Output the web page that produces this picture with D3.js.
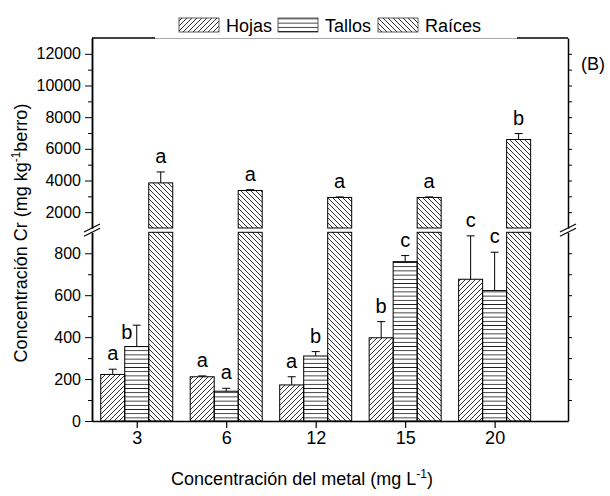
<!DOCTYPE html>
<html>
<head>
<meta charset="utf-8">
<script src="https://cdn.jsdelivr.net/npm/d3@7"></script>
<style>
  body { margin: 0; background: #fff; }
  text { font-family: "Liberation Sans", Arial, sans-serif; fill: #000; }
</style>
</head>
<body>
<div id="chart"></div>
<script>
const cats = ["3", "6", "12", "15", "20"];

const hojas = [222, 211, 172, 397, 676];
const hojasErr = [25, 4, 39, 77, 207];
const hojasSig = ["a", "a", "a", "b", "c"];

const tallos = [355, 142, 310, 760, 622];
const tallosErr = [102, 14, 21, 29, 183];
const tallosSig = ["b", "a", "b", "c", "c"];

const raices = [3850, 3370, 2930, 2930, 6590];
const raicesErr = [690, 50, 30, 30, 375];
const raicesSig = ["a", "a", "a", "a", "b"];

const lowTicks = [0, 200, 400, 600, 800];
const highTicks = [2000, 4000, 6000, 8000, 10000, 12000];

const W = 610, H = 496;
const plotL = 92, plotR = 568, plotT = 38, plotB = 421;
const breakLow = 232.3, breakHigh = 228;

const svg = d3.select("#chart").append("svg")
  .attr("width", W)
  .attr("height", H);

// patterns
const defs = svg.append("defs");
defs.append("pattern")
  .attr("id", "pHojas")
  .attr("patternUnits", "userSpaceOnUse")
  .attr("width", 5).attr("height", 5)
  .append("path")
    .attr("d", "M-1,1 l2,-2 M0,5 l5,-5 M4,6 l2,-2")
    .attr("stroke", "#000").attr("stroke-width", 0.8);
defs.append("pattern")
  .attr("id", "pRaices")
  .attr("patternUnits", "userSpaceOnUse")
  .attr("width", 5).attr("height", 5)
  .append("path")
    .attr("d", "M-1,4 l2,2 M0,0 l5,5 M4,-1 l2,2")
    .attr("stroke", "#000").attr("stroke-width", 0.8);
defs.append("pattern")
  .attr("id", "pTallos")
  .attr("patternUnits", "userSpaceOnUse")
  .attr("width", 8).attr("height", 4.2)
  .append("path")
    .attr("d", "M0,2.1 H8")
    .attr("stroke", "#000").attr("stroke-width", 0.8);

const xSc = d3.scaleLinear().domain([0.5, 5.82]).range([plotL, plotR]);
const yLow = d3.scaleLinear().domain([0, 900]).range([plotB, breakLow]);
const yHigh = d3.scaleLinear().domain([1000, 13000]).range([breakHigh, plotT]);

const barW = 24;
const series = [
  { name: "Hojas", vals: hojas, err: hojasErr, sig: hojasSig, fill: "url(#pHojas)", off: -1 },
  { name: "Tallos", vals: tallos, err: tallosErr, sig: tallosSig, fill: "url(#pTallos)", off: 0 },
  { name: "Raíces", vals: raices, err: raicesErr, sig: raicesSig, fill: "url(#pRaices)", off: 1 }
];

// y position of a value on the broken axis
const yPos = v => v <= 900 ? yLow(v) : yHigh(v);

series.forEach((s, si) => {
  const g = svg.append("g").attr("class", "bars");
  const data = s.vals.map((v, i) => ({ v, e: s.err[i], sig: s.sig[i], x: xSc(i + 1) + s.off * barW }));

  // lower part of each bar
  g.selectAll(".low")
    .data(data)
    .join("rect")
      .attr("class", "low")
      .attr("x", d => d.x - barW / 2)
      .attr("width", barW)
      .attr("y", d => yLow(Math.min(d.v, 900)))
      .attr("height", d => plotB - yLow(Math.min(d.v, 900)))
      .attr("fill", s.fill)
      .attr("stroke", "#000")
      .attr("stroke-width", 1);

  // upper part for values above the break
  g.selectAll(".high")
    .data(data.filter(d => d.v > 900))
    .join("rect")
      .attr("class", "high")
      .attr("x", d => d.x - barW / 2)
      .attr("width", barW)
      .attr("y", d => yHigh(d.v))
      .attr("height", d => breakHigh - yHigh(d.v))
      .attr("fill", s.fill)
      .attr("stroke", "#000")
      .attr("stroke-width", 1);

  // error bars (upper only)
  g.selectAll(".err")
    .data(data)
    .join("path")
      .attr("class", "err")
      .attr("d", d => {
        const y0 = yPos(d.v), y1 = yPos(d.v + d.e);
        return `M${d.x},${y0}V${y1}M${d.x - 4},${y1}H${d.x + 4}`;
      })
      .attr("stroke", "#000")
      .attr("stroke-width", 1)
      .attr("fill", "none");

  // significance letters
  g.selectAll(".sig")
    .data(data)
    .join("text")
      .attr("class", "sig")
      .attr("text-anchor", "middle")
      .attr("x", d => d.x)
      .attr("y", d => yPos(d.v + d.e) - 9)
      .style("font-size", "20px")
      .text(d => d.sig)
      // the "b" over Tallos at 3 sits beside its error bar
      .filter((d, i) => si === 1 && i === 0)
        .attr("x", d => d.x - 10)
        .attr("y", d => yPos(d.v + d.e) + 14);
});

// left axis, two segments
const fmt = d3.format("d");
const axLow = svg.append("g").attr("transform", `translate(${plotL},0)`);
axLow.call(d3.axisLeft(yLow).tickValues(d3.range(100, 900, 200)).tickSize(4).tickFormat("").tickSizeOuter(0));
const axLow2 = svg.append("g").attr("transform", `translate(${plotL},0)`);
axLow2.call(d3.axisLeft(yLow).tickValues(lowTicks).tickFormat(fmt).tickSize(7).tickPadding(4).tickSizeOuter(0));
const axHigh = svg.append("g").attr("transform", `translate(${plotL},0)`);
axHigh.call(d3.axisLeft(yHigh).tickValues(d3.range(3000, 13000, 2000)).tickSize(4).tickFormat("").tickSizeOuter(0));
const axHigh2 = svg.append("g").attr("transform", `translate(${plotL},0)`);
axHigh2.call(d3.axisLeft(yHigh).tickValues(highTicks).tickFormat(fmt).tickSize(7).tickPadding(4).tickSizeOuter(0));

// right axis, ticks inward, no labels
const rLow = svg.append("g").attr("transform", `translate(${plotR},0)`);
rLow.call(d3.axisLeft(yLow).tickValues(d3.range(100, 900, 100)).tickSize(-4).tickFormat("").tickSizeOuter(0));
const rHigh = svg.append("g").attr("transform", `translate(${plotR},0)`);
rHigh.call(d3.axisLeft(yHigh).tickValues(d3.range(2000, 13000, 1000)).tickSize(-4).tickFormat("").tickSizeOuter(0));

svg.selectAll(".tick text").style("font-size", "16px");
svg.selectAll(".domain").attr("stroke-width", 1.5);

// bottom axis
const xAx = svg.append("g").attr("transform", `translate(0,${plotB})`);
xAx.call(d3.axisBottom(xSc).tickValues([1, 2, 3, 4, 5]).tickFormat(i => cats[i - 1]).tickSize(7).tickPadding(3).tickSizeOuter(0));
xAx.selectAll(".tick text").style("font-size", "18px");
xAx.select(".domain").attr("stroke-width", 1.5);
xAx.selectAll(".tick line").attr("stroke-width", 1.2);

// top frame line
svg.append("path")
  .attr("d", `M${plotL},${plotT}H${plotR}`)
  .attr("stroke", "#000")
  .attr("stroke-width", 1.5);

// break marks
[plotL, plotR].forEach(x => {
  [breakHigh, breakLow].forEach(y => {
    svg.append("line")
      .attr("x1", x - 8).attr("y1", y + 4)
      .attr("x2", x + 8).attr("y2", y - 4)
      .attr("stroke", "#000")
      .attr("stroke-width", 1.2);
  });
});

// legend (white box over the top frame)
const legend = svg.append("g").attr("class", "legend");
legend.append("rect")
  .attr("x", 155).attr("y", 4)
  .attr("width", 362).attr("height", 34.5)
  .attr("fill", "#fff");
legend.append("line")
  .attr("x1", 155).attr("x2", 517)
  .attr("y1", 38.5).attr("y2", 38.5)
  .attr("stroke", "#aaa")
  .attr("stroke-width", 1);

const legX = [179, 278, 378];
series.forEach((s, i) => {
  legend.append("rect")
    .attr("x", legX[i]).attr("y", 18)
    .attr("width", 40).attr("height", 14)
    .attr("fill", s.fill)
    .attr("stroke", "#333")
    .attr("stroke-width", 0.8);
  legend.append("text")
    .attr("x", legX[i] + 47)
    .attr("y", 31.5)
    .style("font-size", "18px")
    .text(s.name);
});

// panel tag
svg.append("text")
  .attr("x", 581).attr("y", 69.5)
  .style("font-size", "18px")
  .text("(B)");

// axis titles
const yTitle = svg.append("text")
  .attr("transform", `translate(27,233) rotate(-90)`)
  .attr("text-anchor", "middle")
  .style("font-size", "18px");
yTitle.append("tspan").text("Concentración Cr (mg kg");
yTitle.append("tspan").attr("dy", -7).style("font-size", "12px").text("-1");
yTitle.append("tspan").attr("dy", 7).text("berro)");

const xTitle = svg.append("text")
  .attr("x", 302).attr("y", 485)
  .attr("text-anchor", "middle")
  .style("font-size", "18px");
xTitle.append("tspan").text("Concentración del metal (mg L");
xTitle.append("tspan").attr("dy", -7).style("font-size", "12px").text("-1");
xTitle.append("tspan").attr("dy", 7).text(")");
</script>
</body>
</html>
